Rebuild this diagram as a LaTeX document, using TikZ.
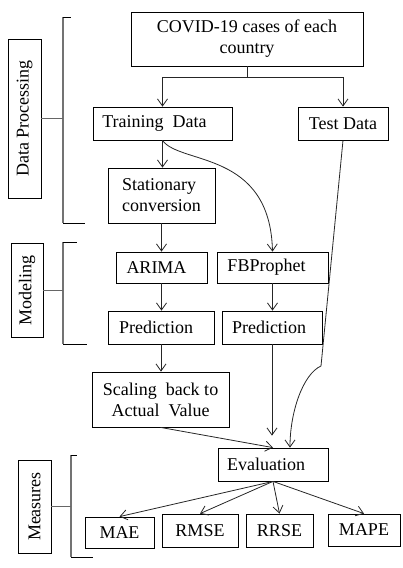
\documentclass[tikz,border=0pt]{standalone}
\usepackage{fontspec}
\setmainfont{Liberation Serif}
\usetikzlibrary{arrows.meta}
\begin{document}
\begin{tikzpicture}[x=1pt,y=-1pt,
  box/.style={draw=black, line width=0.8pt, inner sep=0pt, align=center,
    font=\fontsize{18}{21}\selectfont},
  lbl/.style={draw=black, line width=0.8pt, inner sep=0pt, rotate=90,
    font=\fontsize{18}{21}\selectfont},
  arr/.style={draw=black!85, line width=0.8pt, -{Straight Barb[length=7pt,width=10pt]}},
  ln/.style={draw=black!85, line width=0.8pt},
  brk/.style={draw=black!55, line width=1.5pt},
  tick/.style={draw=black, line width=0.8pt},
  conn/.style={draw=black!60, line width=1pt}]
\useasboundingbox (0,0) rectangle (402,568);
% main boxes
\node[box, minimum width=232pt, minimum height=54pt] (covid) at (247,39) {COVID-19 cases of each\\country};
\node[box, minimum width=139pt, minimum height=33pt] (train) at (162.5,123.5) {Training\ \ Data\kern16pt};
\node[box, minimum width=90pt, minimum height=33pt] (test) at (343,123.5) {Test Data};
\node[box, align=left, minimum width=107pt, minimum height=55pt] (stat) at (161.5,195.5) {Stationary\\conversion};
\node[box, minimum width=91pt, minimum height=31pt] (arima) at (161.5,267.5) {ARIMA\kern10pt};
\node[box, minimum width=111pt, minimum height=31pt] (fb) at (272.5,267.5) {FBProphet\kern12pt};
\node[box, minimum width=106pt, minimum height=33pt] (pred1) at (161,327.5) {Prediction\kern10pt};
\node[box, minimum width=100pt, minimum height=33pt] (pred2) at (272,327.5) {Prediction\kern6pt};
\node[box, minimum width=137pt, minimum height=55pt] (scal) at (160.5,399.5) {Scaling\ \ back to\\Actual\ \ Value};
\node[box, minimum width=110pt, minimum height=33pt] (eval) at (273,464.5) {Evaluation\kern14pt};
\node[box, minimum width=69pt, minimum height=31pt] (mae) at (119.5,532.5) {MAE};
\node[box, minimum width=76pt, minimum height=33pt] (rmse) at (200,530.5) {RMSE};
\node[box, minimum width=67pt, minimum height=33pt] (rrse) at (279.5,530.5) {RRSE};
\node[box, minimum width=72pt, minimum height=32pt] (mape) at (364,530) {MAPE};
% side labels
\node[lbl, minimum width=159pt, minimum height=33pt] (dp) at (24.5,118.5) {Data Processing};
\node[lbl, minimum width=94pt, minimum height=32pt] (mod) at (27,290) {Modeling};
\node[lbl, minimum width=93pt, minimum height=33pt] (meas) at (34.5,506.5) {Measures};
% brackets
\coordinate (b1t) at (63,17); \coordinate (b1b) at (63,223);
\draw[brk] (b1t) -- (b1b);
\draw[tick] (b1t) -- ++(8,0);
\draw[tick] (b1b) -- ++(22,0);
\draw[conn] (dp.south) -- (dp.south -| b1t);
\coordinate (b2t) at (63,242); \coordinate (b2b) at (63,344);
\draw[brk] (b2t) -- (b2b);
\draw[tick] (b2t) -- ++(14,0);
\draw[tick] (b2b) -- ++(24,0);
\draw[conn] (mod.south) -- (mod.south -| b2t);
\coordinate (b3t) at (71,455); \coordinate (b3b) at (71,557);
\draw[brk] (b3t) -- (b3b);
\draw[tick] (b3t) -- ++(6,0);
\draw[tick] (b3b) -- ++(22,0);
\draw[conn] (meas.south) -- (meas.south -| b3t);
% connectors
\draw[ln] (covid.south) -- ++(0,11) coordinate (split);
\draw[arr] (split) -| (train.north);
\draw[arr] (split) -| (test.north);
\draw[arr] (train.south) -- (train.south |- stat.north);
\draw[arr] (train.south) .. controls (180,165) and (270,150) .. (fb.north);
\draw[arr] (stat.south) -- (arima.north);
\draw[arr] (arima.south) -- (arima.south |- pred1.north);
\draw[arr] (pred1.south) -- (pred1.south |- scal.north);
\draw[arr] (fb.south) -- (fb.south |- pred2.north);
\draw[arr, shorten >=12pt] (pred2.south) -- (pred2.south |- eval.north);
\draw[arr] (scal.south) -- (eval.north);
\coordinate (tk) at (321,366);
\draw[arr] (test.south) -- (tk) .. controls (303,374) and (290,412) .. ([xshift=17pt]eval.north);
\draw[arr] (eval.south) -- (mae.north);
\draw[arr] (eval.south) -- (rmse.north);
\draw[arr] (eval.south) -- (rrse.north);
\draw[arr] (eval.south) -- (mape.north);
\end{tikzpicture}
\end{document}
